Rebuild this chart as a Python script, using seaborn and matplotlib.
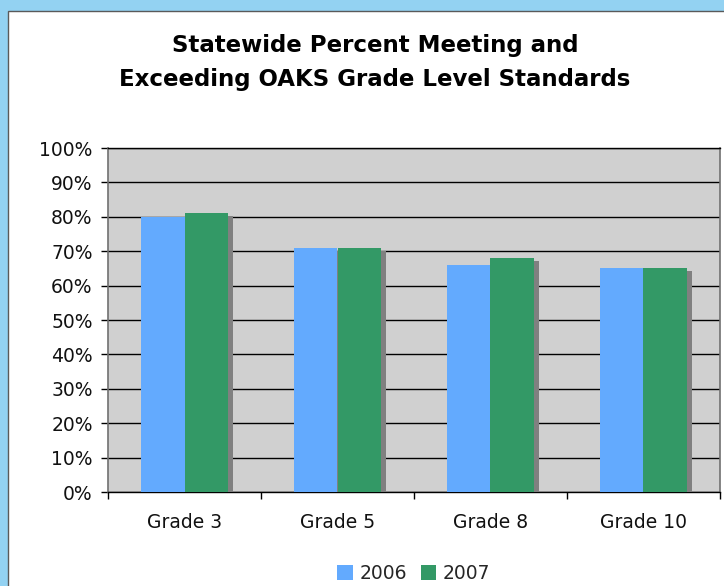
import pandas as pd
import seaborn as sns
import matplotlib.pyplot as plt
import matplotlib.patheffects as pe
from matplotlib.patches import Rectangle
from matplotlib.ticker import PercentFormatter, FixedLocator


# data
grades = ["Grade 3", "Grade 5", "Grade 8", "Grade 10"]
years = ["2006", "2007"]
pct_2006 = [80, 71, 66, 65]
pct_2007 = [81, 71, 68, 65]

df = pd.DataFrame({"grade": grades * 2,
                   "year": [years[0]] * 4 + [years[1]] * 4,
                   "pct": pct_2006 + pct_2007})

sns.set_theme(style="white")
plt.rcParams['font.family'] = ['DejaVu Sans']

fig = plt.figure(figsize=(7.24, 5.86), dpi=100, facecolor="#93D2F2")
# white inner panel with thin dark frame
fig.add_artist(Rectangle((8 / 724, -0.01), 1.02, (586 - 11) / 586 + 0.01,
                         transform=fig.transFigure, facecolor="white",
                         edgecolor="#5a5a5a", lw=1, zorder=-1))

ax = fig.add_axes([108 / 724, 94 / 586, 612 / 724, 344 / 586])
ax.set_facecolor("#D0D0D0")

sns.barplot(data=df, x="grade", y="pct", hue="year",
            palette=["#63AAFE", "#339966"], width=0.575, gap=0,
            saturation=1, ax=ax, zorder=3)

for p in ax.patches:
    p.set_path_effects([pe.SimplePatchShadow(offset=(3, -2.2),
                                             shadow_rgbFace="#808080", alpha=1),
                        pe.Normal()])
    p.set_linewidth(0)

ax.set_ylim(0, 100)
ax.set_xlim(-0.5, 3.5)
ax.set_yticks(range(0, 101, 10))
ax.yaxis.set_major_formatter(PercentFormatter(decimals=0))
ax.yaxis.grid(True, color="black", lw=1)
ax.set_axisbelow(True)

# category ticks sit between the groups, labels in the middle
ax.tick_params(axis="x", which="major", length=0, pad=15, labelsize=13.5, colors="#111111")
ax.xaxis.set_minor_locator(FixedLocator([-0.5, 0.5, 1.5, 2.5, 3.5]))
ax.tick_params(axis="x", which="minor", length=5, width=1, color="black", bottom=True)
ax.tick_params(axis="y", length=5, width=1, color="black", left=True,
               labelsize=13.5, pad=6, colors="#111111")
ax.set_xlabel("")
ax.set_ylabel("")

for s in ["left", "right"]:
    ax.spines[s].set_color("#707070")
    ax.spines[s].set_linewidth(1.2)
for s in ["top", "bottom"]:
    ax.spines[s].set_color("black")
    ax.spines[s].set_linewidth(1)

leg = ax.legend(loc="center", bbox_to_anchor=(0.5, -0.238), ncol=2,
                frameon=False, fontsize=13.5, handlelength=0.85, handleheight=0.85,
                handletextpad=0.35, columnspacing=0.7, borderaxespad=0)
for h in leg.legend_handles:
    h.set_path_effects([])

fig.text(0.518, 0.893, "Statewide Percent Meeting and\nExceeding OAKS Grade Level Standards",
         ha="center", va="center", fontsize=16.5, fontweight="bold",
         linespacing=1.6, color="black")

fig.savefig("out.png", dpi=100, facecolor=fig.get_facecolor())
